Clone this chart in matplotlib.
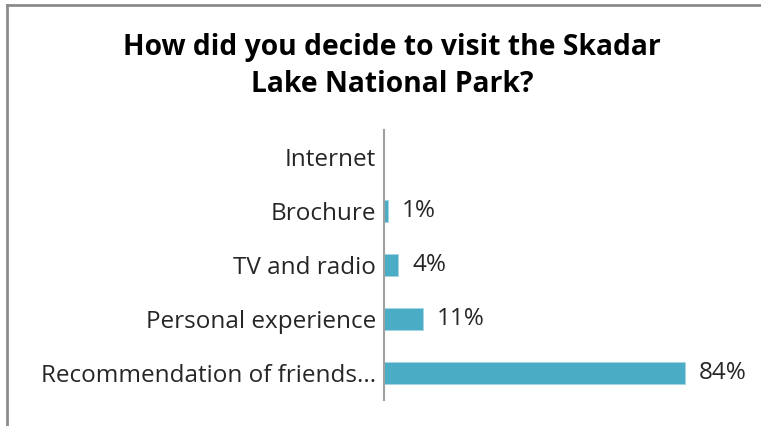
import matplotlib
matplotlib.use("Agg")
import matplotlib.pyplot as plt
from matplotlib.lines import Line2D

categories = ["Internet", "Brochure", "TV and radio", "Personal experience",
              "Recommendation of friends..."]
values = [0, 1, 4, 11, 84]
value_labels = ["", "1%", "4%", "11%", "84%"]
title = "How did you decide to visit the Skadar\nLake National Park?"

FONT = "Open Sans"
W, H = 761, 426
fig = plt.figure(figsize=(W / 100, H / 100), dpi=100)
fig.patch.set_facecolor("white")

# chart frame (left and top edges visible)
fig.add_artist(Line2D([7 / W, 7 / W], [0, 1 - 5 / H], transform=fig.transFigure,
                      color="#8c8c8c", lw=2))
fig.add_artist(Line2D([7 / W, 1], [1 - 5 / H, 1 - 5 / H], transform=fig.transFigure,
                      color="#8c8c8c", lw=2))

ax = fig.add_axes([384 / W, (H - 400) / H, (742 - 384) / W, 270 / H])
ypos = list(range(len(categories)))[::-1]
ax.barh(ypos, values, height=0.4, color="#4bacc6", edgecolor="#a6d6e4", linewidth=0.6)
ax.set_xlim(0, 100)
ax.set_ylim(-0.5, len(categories) - 0.5)
ax.set_yticks(ypos)
ax.set_yticklabels(categories, fontsize=17.5, color="#262626", family=FONT)
ax.tick_params(axis="y", length=0, pad=5.5)
ax.set_xticks([])
for s in ["top", "right", "bottom"]:
    ax.spines[s].set_visible(False)
ax.spines["left"].set_color("#a0a0a0")
ax.spines["left"].set_linewidth(1.5)

for y, v, lab in zip(ypos, values, value_labels):
    if lab:
        ax.annotate(lab, (v, y), xytext=(10, 0), textcoords="offset points",
                    va="center", ha="left", fontsize=17.5, color="#262626", family=FONT)

fig.text(392 / W, 1 - 66 / H, title, ha="center", va="center", fontsize=20.3,
         fontweight="bold", family=FONT, color="black", linespacing=1.38)

fig.savefig("out.png", dpi=100)
